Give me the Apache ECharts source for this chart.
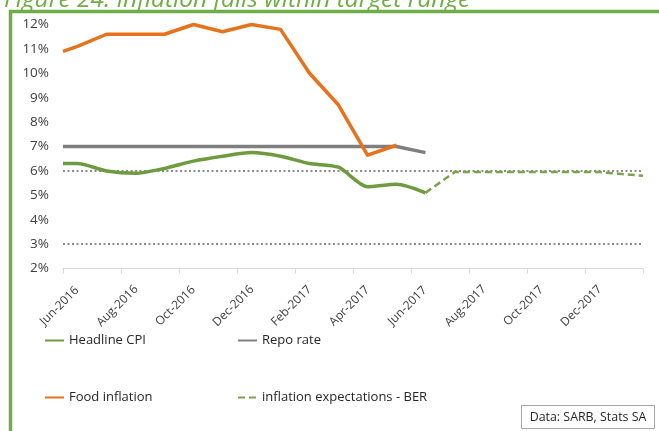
<!DOCTYPE html>
<html>
<head>
<meta charset="utf-8">
<script src="https://cdn.jsdelivr.net/npm/echarts@6/dist/echarts.min.js"></script>
<style>
  html, body { margin: 0; padding: 0; background: #ffffff; }
  #chart { width: 659px; height: 431px; }
</style>
</head>
<body>
<div id="chart"></div>
<script>
// Months elapsed since the start of Jun-2016 for each observation
const obsMonths = [0, 0.5, 1.5, 2.5, 3.5, 4.5, 5.5, 6.5, 7.5, 8.5, 9.5, 10.5, 11.5, 12.5];
const headlineCPI = [6.3, 6.3, 6.0, 5.9, 6.1, 6.4, 6.6, 6.75, 6.6, 6.3, 6.15, 5.35, 5.45, 5.1];
const foodInflation = [10.9, 11.1, 11.6, 11.6, 11.6, 12.0, 11.7, 12.0, 11.8, 10.0, 8.7, 6.65, 7.05];
const repoRate = [7, 7, 7, 7, 7, 7, 7, 7, 7, 7, 7, 7, 7, 6.75];

// BER inflation expectations, continuing from the latest CPI print
const expMonths = [12.5, 13.5, 14.5, 15.5, 16.5, 17.5, 18.5, 20];
const berExpectations = [5.1, 5.95, 5.95, 5.95, 5.95, 5.95, 5.95, 5.8];

// SARB inflation target band (%), spanning the whole axis
const targetMonths = [0, 20];
const targetLow = 3;
const targetHigh = 6;

const tickLabels = ['Jun-2016', 'Aug-2016', 'Oct-2016', 'Dec-2016', 'Feb-2017',
                    'Apr-2017', 'Jun-2017', 'Aug-2017', 'Oct-2017', 'Dec-2017'];

const FONT = '"Open Sans", "DejaVu Sans", sans-serif';
const GREEN = '#6e9b3f';
const ORANGE = '#e8711c';
const GREY = '#7f7f7f';
const FRAME = '#70ad47';

const pair = (xs, ys) => ys.map((v, i) => [xs[i], v]);

const chart = echarts.init(document.getElementById('chart'), null, { renderer: 'canvas' });

function legendItem(name, left, top) {
  return {
    data: [name],
    left: left,
    top: top,
    itemWidth: 19,
    itemHeight: 14,
    selectedMode: false,
    itemStyle: { opacity: 0 },
    textStyle: { fontFamily: FONT, fontSize: 13, color: '#262626' }
  };
}

chart.setOption({
  animation: false,
  backgroundColor: '#ffffff',
  grid: { left: 63, right: 16, top: 24.5, bottom: 162.5, containLabel: false },
  xAxis: {
    type: 'value',
    min: 0,
    max: 20,
    interval: 2,
    axisLine: { show: true, lineStyle: { color: '#d9d9d9', width: 1 } },
    axisTick: { show: true, length: 5, lineStyle: { color: '#d9d9d9' } },
    splitLine: { show: false },
    axisLabel: {
      rotate: 45,
      align: 'center',
      verticalAlign: 'bottom',
      lineHeight: 10,
      margin: 41,
      fontFamily: FONT,
      fontSize: 12,
      color: '#404040',
      showMaxLabel: true,
      formatter: v => tickLabels[Math.round(v / 2)] || ''
    }
  },
  yAxis: {
    type: 'value',
    min: 2,
    max: 12,
    interval: 1,
    axisLine: { show: false },
    axisTick: { show: false },
    splitLine: { show: false },
    axisLabel: {
      margin: 14,
      fontFamily: FONT,
      fontSize: 13.5,
      color: '#404040',
      formatter: '{value}%'
    }
  },
  legend: [
    legendItem('Headline CPI', 39, 329),
    legendItem('Repo rate', 232, 329),
    legendItem('Food inflation', 39, 386),
    legendItem('inflation expectations - BER', 232, 386)
  ],
  series: [
    {
      name: 'target-high',
      type: 'line',
      data: targetMonths.map(m => [m, targetHigh]),
      symbol: 'none',
      silent: true,
      lineStyle: { color: '#8c8c8c', width: 2, type: [2, 2.5] },
      z: 1
    },
    {
      name: 'target-low',
      type: 'line',
      data: targetMonths.map(m => [m, targetLow]),
      symbol: 'none',
      silent: true,
      lineStyle: { color: '#8c8c8c', width: 2, type: [2, 2.5] },
      z: 1
    },
    {
      name: 'Repo rate',
      type: 'line',
      data: pair(obsMonths, repoRate),
      symbol: 'none',
      color: GREY,
      lineStyle: { color: GREY, width: 3.5 },
      z: 2
    },
    {
      name: 'Headline CPI',
      type: 'line',
      data: pair(obsMonths, headlineCPI),
      symbol: 'none',
      smooth: 0.25,
      color: GREEN,
      lineStyle: { color: GREEN, width: 3.5 },
      z: 3
    },
    {
      name: 'Food inflation',
      type: 'line',
      data: pair(obsMonths, foodInflation),
      symbol: 'none',
      color: ORANGE,
      lineStyle: { color: ORANGE, width: 3.5, join: 'round' },
      z: 4
    },
    {
      name: 'inflation expectations - BER',
      type: 'line',
      data: pair(expMonths, berExpectations),
      symbol: 'none',
      color: '#7aa34a',
      lineStyle: { color: '#7aa34a', width: 2.5, type: [7, 4] },
      z: 3
    }
  ],
  graphic: [
    {
      type: 'text',
      x: 4,
      y: 13,
      z: 10,
      style: {
        text: 'Figure 24: Inflation falls within target range',
        font: 'italic 24.5px ' + FONT,
        fill: FRAME,
        verticalAlign: 'bottom'
      }
    },
    {
      type: 'polyline',
      z: 11,
      shape: { points: [[10.5, 431], [10.5, 11.5], [659, 11.5]] },
      style: { stroke: FRAME, lineWidth: 3.5, fill: null }
    },
    {
      type: 'rect',
      z: 10,
      shape: { x: 521.5, y: 405.5, width: 133, height: 23 },
      style: { fill: '#ffffff', stroke: '#a6a6a6', lineWidth: 1 }
    },
    {
      type: 'text',
      x: 588,
      y: 417,
      z: 11,
      style: {
        text: 'Data: SARB, Stats SA',
        font: '12.4px ' + FONT,
        fill: '#262626',
        align: 'center',
        verticalAlign: 'middle'
      }
    }
  ]
});
</script>
</body>
</html>
